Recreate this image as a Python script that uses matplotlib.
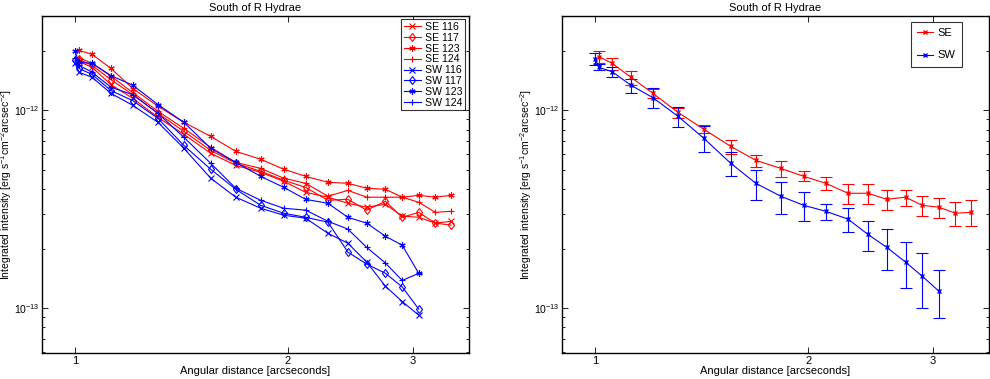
import numpy as np
import matplotlib
matplotlib.use("Agg")
import matplotlib.pyplot as plt
from matplotlib.lines import Line2D
from matplotlib.ticker import FixedLocator, NullLocator, FixedFormatter, LogLocator, NullFormatter

plt.rcParams['font.family'] = ['Liberation Sans', 'DejaVu Sans']
plt.rcParams['mathtext.fontset'] = 'custom'
plt.rcParams['mathtext.rm'] = 'Liberation Sans'
plt.rcParams['mathtext.it'] = 'Liberation Sans'

# Angular distances [arcsec]
x_sw = [1.0, 1.013, 1.057, 1.124, 1.207, 1.31, 1.425, 1.555, 1.687, 1.83,
        1.972, 2.118, 2.277, 2.43, 2.583, 2.746, 2.9, 3.06]
x_se = [1.013, 1.057, 1.124, 1.207, 1.31, 1.425, 1.555, 1.687, 1.83,
        1.972, 2.118, 2.277, 2.43, 2.583, 2.746, 2.9, 3.06, 3.23, 3.4]

# Individual slit intensities [1e-12 erg s-1 cm-2 arcsec-2]
se_116 = [1.77, 1.65, 1.35, 1.15, 0.922, 0.756, 0.607, 0.527, 0.486, 0.438,
          0.385, 0.364, 0.339, 0.324, 0.335, 0.292, 0.288, 0.269, 0.275]
se_117 = [1.81, 1.69, 1.43, 1.20, 0.966, 0.783, 0.628, 0.540, 0.492, 0.443,
          0.408, 0.351, 0.355, 0.313, 0.347, 0.288, 0.305, 0.269, 0.263]
se_123 = [2.01, 1.92, 1.63, 1.29, 1.05, 0.870, 0.739, 0.621, 0.566, 0.504,
          0.464, 0.433, 0.428, 0.404, 0.399, 0.364, 0.372, 0.364, 0.372]
se_124 = [1.85, 1.73, 1.49, 1.23, 0.989, 0.811, 0.650, 0.546, 0.509, 0.454,
          0.428, 0.368, 0.394, 0.364, 0.364, 0.364, 0.343, 0.305, 0.309]
sw_116 = [1.73, 1.56, 1.47, 1.22, 1.06, 0.870, 0.643, 0.454, 0.364, 0.320,
          0.295, 0.285, 0.239, 0.213, 0.171, 0.129, 0.108, 0.0922]
sw_117 = [1.79, 1.63, 1.52, 1.26, 1.12, 0.911, 0.665, 0.504, 0.399, 0.331,
          0.302, 0.288, 0.272, 0.192, 0.167, 0.150, 0.128, 0.0989]
sw_123 = [1.99, 1.75, 1.73, 1.50, 1.34, 1.07, 0.870, 0.643, 0.546, 0.464,
          0.408, 0.355, 0.339, 0.288, 0.269, 0.231, 0.208, 0.150]
sw_124 = [1.85, 1.69, 1.56, 1.31, 1.20, 0.966, 0.731, 0.540, 0.404, 0.351,
          0.320, 0.313, 0.275, 0.251, 0.203, 0.169, 0.138, 0.150]

# Averages and errors [1e-12]
se_mean = [1.87, 1.73, 1.47, 1.22, 0.977, 0.802, 0.658, 0.559, 0.509, 0.464,
           0.428, 0.381, 0.381, 0.355, 0.364, 0.331, 0.324, 0.302, 0.305]
se_err = [0.13, 0.12, 0.12, 0.07, 0.057, 0.037, 0.053, 0.039, 0.047, 0.027,
          0.030, 0.044, 0.044, 0.041, 0.034, 0.038, 0.038, 0.042, 0.046]
sw_mean = [1.83, 1.65, 1.57, 1.34, 1.16, 0.933, 0.722, 0.54, 0.428, 0.368,
           0.331, 0.309, 0.282, 0.236, 0.203, 0.171, 0.145, 0.122]
sw_err = [0.128, 0.058, 0.091, 0.109, 0.135, 0.108, 0.108, 0.075, 0.074, 0.068,
          0.054, 0.029, 0.039, 0.041, 0.047, 0.044, 0.045, 0.033]

scale = 1e-12
title = "South of R Hydrae"
xlabel = "Angular distance [arcseconds]"
ylabel = r"Integrated intensity [erg s$^{-1}$cm$^{-2}$arcsec$^{-2}$]"
fs = 8

fig = plt.figure(figsize=(9.9, 3.79), dpi=100)
ax1 = fig.add_axes([0.0424, 0.0686, 0.431, 0.889])
ax2 = fig.add_axes([0.5677, 0.0686, 0.431, 0.889])

lw = 0.8
ms = 4.5
series = [
    ("SE 116", x_se, se_116, 'r', 'x'),
    ("SE 117", x_se, se_117, 'r', 'd'),
    ("SE 123", x_se, se_123, 'r', (6, 2, 0)),
    ("SE 124", x_se, se_124, 'r', '+'),
    ("SW 116", x_sw, sw_116, 'b', 'x'),
    ("SW 117", x_sw, sw_117, 'b', 'd'),
    ("SW 123", x_sw, sw_123, 'b', (6, 2, 0)),
    ("SW 124", x_sw, sw_124, 'b', '+'),
]
for lab, xs, ys, c, m in series:
    mfc = 'none' if m == 'd' else c
    ax1.plot(xs, np.array(ys) * scale, color=c, marker=m, lw=lw, ms=ms,
             mfc=mfc, mec=c, mew=0.8, label=lab)

ax2.errorbar(x_se, np.array(se_mean) * scale, yerr=np.array(se_err) * scale,
             color='r', marker='x', ms=3.5, lw=lw, elinewidth=lw, capsize=4.5,
             capthick=lw)
ax2.errorbar(x_sw, np.array(sw_mean) * scale, yerr=np.array(sw_err) * scale,
             color='b', marker='x', ms=3.5, lw=lw, elinewidth=lw, capsize=4.5,
             capthick=lw)

for ax in (ax1, ax2):
    ax.set_xscale('log')
    ax.set_yscale('log')
    ax.set_xlim(0.898, 3.6)
    ax.set_ylim(5.93e-14, 3.0e-12)
    ax.xaxis.set_major_locator(FixedLocator([1, 2, 3]))
    ax.xaxis.set_major_formatter(FixedFormatter(["1", "2", "3"]))
    ax.xaxis.set_minor_locator(NullLocator())
    ax.yaxis.set_major_locator(LogLocator(base=10, numticks=10))
    ax.yaxis.set_minor_locator(LogLocator(base=10, subs=np.arange(2, 10), numticks=20))
    ax.yaxis.set_minor_formatter(NullFormatter())
    ax.tick_params(which='both', direction='in', top=True, right=True,
                   labelsize=fs, width=0.6)
    ax.tick_params(axis='y', which='major', labelsize=7.5, pad=1.5)
    ax.tick_params(which='major', length=4)
    ax.tick_params(axis='x', which='major', pad=2)
    ax.tick_params(which='minor', length=2.5)
    for s in ax.spines.values():
        s.set_linewidth(1.0)
    ax.set_title(title, fontsize=fs, pad=4)
    ax.set_xlabel(xlabel, fontsize=fs, labelpad=0)
    ax.set_ylabel(ylabel, fontsize=7.5)
    ax.yaxis.set_label_coords(-0.066, 0.5)

leg1 = ax1.legend(loc='upper right', fontsize=7.6, frameon=True, fancybox=False,
                  edgecolor='black', borderaxespad=0.3, handlelength=1.6,
                  labelspacing=0.08, borderpad=0.25, handletextpad=0.45)
leg1.get_frame().set_linewidth(0.8)

h_se = Line2D([], [], color='r', marker='x', ms=3.5, lw=lw)
h_sw = Line2D([], [], color='b', marker='x', ms=3.5, lw=lw)
leg2 = ax2.legend([h_se, h_sw], ["SE", "SW"], loc='upper right', fontsize=fs,
                  frameon=True, fancybox=False, edgecolor='black',
                  bbox_to_anchor=(0.937, 0.982), borderaxespad=0,
                  handlelength=1.4, labelspacing=1.1, borderpad=0.55,
                  handletextpad=0.45)
leg2.get_frame().set_linewidth(0.8)

fig.savefig("out.png", dpi=100)
